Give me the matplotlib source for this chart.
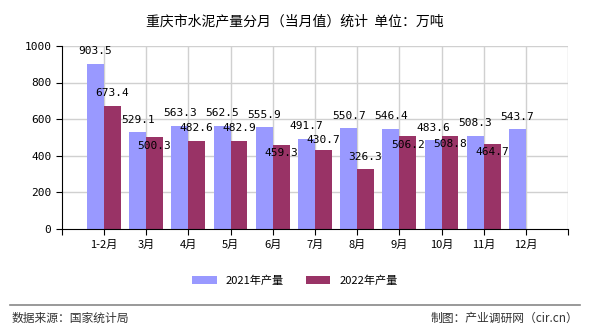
import numpy as np
import matplotlib.pyplot as plt
from matplotlib.lines import Line2D

plt.rcParams['font.family'] = ['Noto Sans CJK SC', 'DejaVu Sans']

months = ['1-2月', '3月', '4月', '5月', '6月', '7月', '8月', '9月', '10月', '11月', '12月']
prod_2021 = [903.5, 529.1, 563.3, 562.5, 555.9, 491.7, 550.7, 546.4, 483.6, 508.3, 543.7]
prod_2022 = [673.4, 500.3, 482.6, 482.9, 459.3, 430.7, 326.3, 506.2, 508.8, 464.7]
yticks = [0, 200, 400, 600, 800, 1000]

# 标签相对柱顶的偏移（points），负值表示放在柱内
off_2021 = [9] * len(prod_2021)
off_2022 = [9, -6, 9, 9, -6, 7, 9, -6, -6, -6]

c21 = '#9999ff'
c22 = '#993366'
w = 0.4

fig = plt.figure(figsize=(5.9, 3.3), dpi=100)
ax = fig.add_axes([0.1046, 0.306, 0.8584, 0.555])

x = np.arange(len(months))
x22 = np.arange(len(prod_2022))
b1 = ax.bar(x - w / 2, prod_2021, w, color=c21, zorder=2)
b2 = ax.bar(x22 + w / 2, prod_2022, w, color=c22, zorder=2)

mono = ['DejaVu Sans Mono']
for xi, v, o in zip(x, prod_2021, off_2021):
    ax.annotate(f'{v:.1f}', (xi - w / 2, v), xytext=(0, o), textcoords='offset points',
                ha='center', va='center', fontsize=8, family=mono, zorder=3)
for xi, v, o in zip(x22, prod_2022, off_2022):
    ax.annotate(f'{v:.1f}', (xi + w / 2, v), xytext=(0, o), textcoords='offset points',
                ha='center', va='center', fontsize=8, family=mono, zorder=3)

ax.set_xlim(-1, 11)
ax.set_ylim(0, 1000)
ax.set_yticks(yticks)
ticks = np.arange(-1, 12)
ax.set_xticks(ticks)
ax.set_xticklabels([''] + months + [''], fontsize=8)
ax.tick_params(axis='y', labelsize=8, length=4, direction='out')
ax.tick_params(axis='x', length=4, direction='out')
for lab in ax.get_yticklabels():
    lab.set_family(mono)

# 网格
for gx in range(0, 12):
    ax.axvline(gx, color='#d0d0d0', lw=1, zorder=1)
for gy in yticks[1:]:
    ax.axhline(gy, color='#d0d0d0', lw=1, zorder=1)

for s in ['top', 'right']:
    ax.spines[s].set_visible(False)
ax.spines['left'].set_color('black')
ax.spines['bottom'].set_color('black')

fig.text(0.5, 0.935, '重庆市水泥产量分月（当月值）统计  单位：万吨',
         ha='center', va='center', fontsize=10)

fig.legend([b1, b2], ['2021年产量', '2022年产量'], loc='center',
           bbox_to_anchor=(0.5, 0.15), ncol=2, frameon=False, fontsize=8,
           handlelength=2.2, handleheight=0.8, columnspacing=2.0)

fig.add_artist(Line2D([0.017, 0.983], [0.077, 0.077], color='#888888', lw=1.2,
                      transform=fig.transFigure))
fig.text(0.02, 0.035, '数据来源：国家统计局', ha='left', va='center', fontsize=8.5, color='#333333')
fig.text(0.98, 0.035, '制图：产业调研网（cir.cn）', ha='right', va='center', fontsize=8.5, color='#333333')

fig.savefig('out.png', dpi=100)
